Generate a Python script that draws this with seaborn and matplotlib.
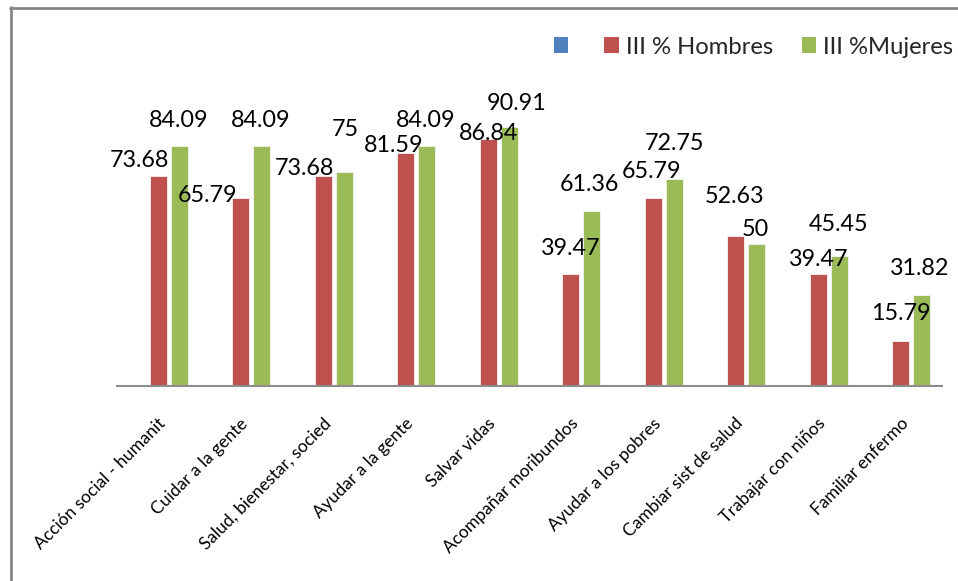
import matplotlib
matplotlib.use("Agg")
import matplotlib.pyplot as plt
import matplotlib.transforms as mtransforms
from matplotlib.patches import Patch
from matplotlib.lines import Line2D
import pandas as pd
import seaborn as sns

# ---- data ----
categories = [
    "Acción social - humanit", "Cuidar a la gente", "Salud, bienestar, socied",
    "Ayudar a la gente", "Salvar vidas", "Acompañar moribundos",
    "Ayudar a los pobres", "Cambiar sist de salud", "Trabajar con niños",
    "Familiar enfermo",
]
series_blank = "Serie 1"
series_h = "III % Hombres"
series_m = "III %Mujeres"
hombres = [73.68, 65.79, 73.68, 81.59, 86.84, 39.47, 65.79, 52.63, 39.47, 15.79]
mujeres = [84.09, 84.09, 75, 84.09, 90.91, 61.36, 72.75, 50, 45.45, 31.82]

# label nudges in pixels (dx, dy of label centre above the bar top)
nudge_h = [(-19, 16), (-33, 3), (-19, 8), (-12, 8), (0, 5),
           (0, 25), (-2, 27), (-1, 40), (0, 14), (0, 27)]
nudge_m = [(-1, 26), (-1, 26), (1, 43), (-1, 26), (7, 23.5),
           (-2, 27), (0, 35), (-1, 14), (-1, 32), (-2, 27)]

colors = {series_blank: "#4F81BD", series_h: "#C0504D", series_m: "#9BBB59"}

df = pd.DataFrame({
    "categoria": categories * 2,
    "serie": [series_h] * len(categories) + [series_m] * len(categories),
    "valor": hombres + mujeres,
})

sns.set_theme(style="white")
plt.rcParams["font.family"] = ["Lato", "DejaVu Sans"]

W, H = 958, 581
fig = plt.figure(figsize=(W / 100, H / 100), dpi=100)
ax = fig.add_axes([117 / W, (H - 386) / H, 825 / W, 285 / H])

sns.barplot(
    data=df, x="categoria", y="valor", hue="serie",
    hue_order=[series_blank, series_h, series_m], order=categories,
    palette=colors, saturation=1, width=0.764, gap=0.19, errorbar=None,
    edgecolor="#f4f4f4", linewidth=0.6, legend=False, ax=ax,
)

ax.set_ylim(0, 100)
ax.set_xlim(-0.5, len(categories) - 0.5)
ax.set_xlabel("")
ax.set_ylabel("")
ax.set_yticks([])
for side in ("top", "right", "left"):
    ax.spines[side].set_visible(False)
ax.spines["bottom"].set_color("#8c8c8c")
ax.spines["bottom"].set_linewidth(1.5)
ax.tick_params(axis="x", length=0, pad=0)

# rotated category labels
ax.set_xticks(range(len(categories)))
ax.set_xticklabels(categories, rotation=45, ha="right", va="center",
                   rotation_mode="anchor", fontsize=12.5, color="#000000")
shift = mtransforms.ScaledTranslation(5 / 100, -35 / 100, fig.dpi_scale_trans)
for lbl in ax.get_xticklabels():
    lbl.set_transform(lbl.get_transform() + shift)

# value labels
def label_bars(container, values, nudges):
    bars = sorted(container.patches, key=lambda b: b.get_x())
    for bar, v, (dx, dy) in zip(bars, values, nudges):
        x = bar.get_x() + bar.get_width() / 2
        txt = f"{v:g}"
        ax.annotate(txt, (x, bar.get_height()), xytext=(dx, dy),
                    textcoords="offset pixels", ha="center", va="center",
                    fontsize=16.8, color="#000000", annotation_clip=False)

conts = [c for c in ax.containers if len(c.patches) > 0]
label_bars(conts[0], hombres, nudge_h)
label_bars(conts[1], mujeres, nudge_m)

# legend
handles = [Patch(facecolor=colors[s], edgecolor="none")
           for s in (series_blank, series_h, series_m)]
fig.legend(handles, ["", series_h, series_m], loc="center right",
           bbox_to_anchor=(953 / W, 1 - 47 / H), ncol=3, frameon=False,
           fontsize=17.2, handlelength=0.6, handleheight=0.6,
           handletextpad=0.3, columnspacing=1.2, borderpad=0,
           borderaxespad=0)

# chart frame (top and left edges)
fig.add_artist(Line2D([10 / W, 1], [1 - 7.5 / H, 1 - 7.5 / H],
                      transform=fig.transFigure, color="#868686", lw=2))
fig.add_artist(Line2D([10.5 / W, 10.5 / W], [0, 1 - 7 / H],
                      transform=fig.transFigure, color="#868686", lw=2))

fig.savefig("out.png", dpi=100, facecolor="white")
